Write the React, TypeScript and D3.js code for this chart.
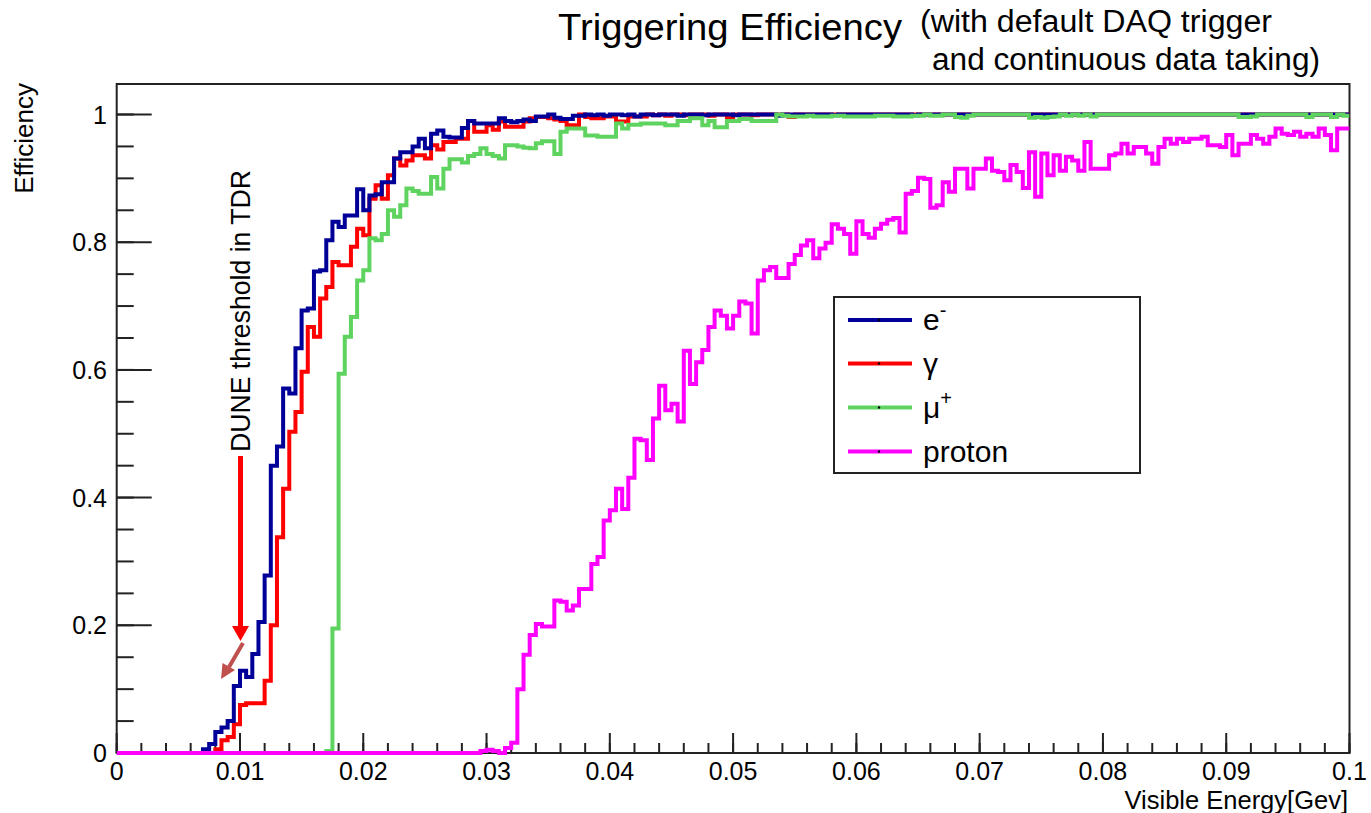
import React from "react";
import * as d3 from "d3";

// ---- data: 200 bins from 0 to 0.1 GeV (bin width 0.0005) ----
const xTickLabels = ["0", "0.01", "0.02", "0.03", "0.04", "0.05", "0.06", "0.07", "0.08", "0.09", "0.1"];
const xTickValues = [0, 0.01, 0.02, 0.03, 0.04, 0.05, 0.06, 0.07, 0.08, 0.09, 0.1];
const yTickLabels = ["0", "0.2", "0.4", "0.6", "0.8", "1"];
const yTickValues = [0, 0.2, 0.4, 0.6, 0.8, 1];

const electron = [
  0, 0, 0, 0, 0, 0, 0, 0, 0, 0,
  0, 0, 0, 0, 0.006, 0.014, 0.033, 0.040, 0.050, 0.105,
  0.129, 0.119, 0.155, 0.205, 0.278, 0.450, 0.480, 0.571, 0.563, 0.634,
  0.693, 0.696, 0.754, 0.756, 0.803, 0.832, 0.824, 0.842, 0.842, 0.883,
  0.850, 0.873, 0.875, 0.894, 0.894, 0.931, 0.941, 0.941, 0.950, 0.962,
  0.947, 0.970, 0.975, 0.965, 0.964, 0.964, 0.979, 0.990, 0.986, 0.986,
  0.986, 0.986, 0.994, 0.990, 0.988, 0.990, 0.992, 0.990, 0.997, 0.997,
  1.000, 0.995, 0.993, 0.993, 0.998, 0.998, 1.000, 0.999, 1.000, 0.998,
  1.000, 1.000, 0.999, 1.000, 0.997, 1.000, 1.000, 0.999, 1.000, 1.000,
  1.000, 0.998, 1.000, 1.000, 1.000, 0.999, 1.000, 1.000, 1.000, 1.000,
  0.999, 1.000, 1.000, 1.000, 1.000, 1.000, 1.000, 0.998, 1.000, 1.000,
  1.000, 1.000, 1.000, 1.000, 1.000, 1.000, 0.999, 1.000, 1.000, 1.000,
  1.000, 1.000, 1.000, 1.000, 1.000, 1.000, 1.000, 1.000, 1.000, 0.999,
  1.000, 1.000, 1.000, 1.000, 1.000, 1.000, 1.000, 1.000, 1.000, 1.000,
  1.000, 1.000, 1.000, 1.000, 1.000, 1.000, 1.000, 1.000, 1.000, 1.000,
  1.000, 1.000, 1.000, 1.000, 1.000, 1.000, 1.000, 1.000, 1.000, 1.000,
  1.000, 1.000, 1.000, 1.000, 1.000, 1.000, 1.000, 1.000, 1.000, 1.000,
  1.000, 1.000, 1.000, 1.000, 1.000, 1.000, 1.000, 1.000, 1.000, 1.000,
  1.000, 1.000, 1.000, 1.000, 1.000, 1.000, 1.000, 1.000, 1.000, 1.000,
  1.000, 1.000, 1.000, 1.000, 1.000, 1.000, 1.000, 1.000, 1.000, 1.000,
];

const gamma = [
  0, 0, 0, 0, 0, 0, 0, 0, 0, 0,
  0, 0, 0, 0, 0, 0, 0.006, 0.020, 0.025, 0.045,
  0.075, 0.078, 0.078, 0.078, 0.113, 0.200, 0.338, 0.414, 0.503, 0.534,
  0.597, 0.667, 0.652, 0.712, 0.730, 0.769, 0.764, 0.764, 0.793, 0.821,
  0.811, 0.868, 0.889, 0.868, 0.905, 0.931, 0.920, 0.928, 0.936, 0.936,
  0.931, 0.952, 0.945, 0.957, 0.957, 0.962, 0.962, 0.990, 0.973, 0.973,
  0.983, 0.976, 0.989, 0.981, 0.981, 0.981, 0.989, 0.994, 0.996, 0.996,
  0.994, 0.992, 0.990, 0.983, 0.983, 1.000, 0.996, 0.994, 0.994, 0.997,
  0.997, 0.989, 0.989, 0.997, 0.997, 0.997, 1.000, 0.999, 1.000, 0.998,
  1.000, 1.000, 0.999, 1.000, 1.000, 1.000, 0.998, 1.000, 1.000, 0.996,
  1.000, 1.000, 1.000, 0.999, 1.000, 1.000, 1.000, 1.000, 1.000, 0.996,
  1.000, 1.000, 1.000, 1.000, 1.000, 1.000, 1.000, 1.000, 1.000, 1.000,
  1.000, 1.000, 1.000, 1.000, 1.000, 1.000, 1.000, 1.000, 1.000, 1.000,
  1.000, 1.000, 1.000, 1.000, 1.000, 1.000, 1.000, 1.000, 1.000, 1.000,
  1.000, 1.000, 1.000, 1.000, 1.000, 1.000, 1.000, 1.000, 1.000, 1.000,
  1.000, 1.000, 1.000, 1.000, 1.000, 1.000, 1.000, 1.000, 1.000, 1.000,
  1.000, 1.000, 1.000, 1.000, 1.000, 1.000, 1.000, 1.000, 1.000, 1.000,
  1.000, 1.000, 1.000, 1.000, 1.000, 1.000, 1.000, 1.000, 1.000, 1.000,
  1.000, 1.000, 1.000, 1.000, 1.000, 1.000, 1.000, 1.000, 1.000, 1.000,
  1.000, 1.000, 1.000, 1.000, 1.000, 1.000, 1.000, 1.000, 1.000, 1.000,
];

const muon = [
  0, 0, 0, 0, 0, 0, 0, 0, 0, 0,
  0, 0, 0, 0, 0, 0, 0, 0, 0, 0,
  0, 0, 0, 0, 0, 0, 0, 0, 0, 0,
  0, 0, 0, 0, 0.003, 0.195, 0.594, 0.652, 0.683, 0.740,
  0.756, 0.806, 0.803, 0.813, 0.850, 0.840, 0.858, 0.884, 0.880, 0.876,
  0.876, 0.902, 0.884, 0.915, 0.930, 0.930, 0.925, 0.935, 0.938, 0.947,
  0.938, 0.935, 0.931, 0.952, 0.952, 0.950, 0.948, 0.947, 0.955, 0.958,
  0.958, 0.938, 0.973, 0.978, 0.978, 0.978, 0.967, 0.967, 0.965, 0.965,
  0.965, 0.986, 0.978, 0.984, 0.984, 0.986, 0.986, 0.986, 0.986, 0.983,
  0.983, 0.990, 0.990, 0.994, 0.994, 0.983, 0.990, 0.980, 0.980, 0.990,
  0.990, 0.993, 0.993, 0.990, 0.990, 0.990, 0.990, 1.000, 0.998, 0.997,
  0.997, 0.997, 0.998, 0.997, 0.997, 0.997, 0.998, 0.998, 0.997, 0.997,
  0.997, 0.997, 0.997, 0.998, 0.998, 0.998, 0.997, 0.997, 0.997, 0.998,
  0.998, 1.000, 0.998, 0.998, 1.000, 1.000, 0.996, 0.995, 0.998, 1.000,
  1.000, 1.000, 1.000, 1.000, 1.000, 1.000, 1.000, 1.000, 0.995, 0.996,
  0.995, 0.996, 0.997, 1.000, 0.998, 1.000, 0.998, 1.000, 0.997, 1.000,
  1.000, 1.000, 1.000, 1.000, 1.000, 1.000, 1.000, 1.000, 1.000, 1.000,
  1.000, 1.000, 1.000, 1.000, 1.000, 1.000, 1.000, 1.000, 1.000, 1.000,
  1.000, 1.000, 0.996, 0.996, 0.997, 1.000, 1.000, 1.000, 1.000, 1.000,
  1.000, 1.000, 1.000, 0.996, 1.000, 1.000, 1.000, 0.996, 1.000, 0.998,
];

const proton = [
  0, 0, 0, 0, 0, 0, 0, 0, 0, 0,
  0, 0, 0, 0, 0, 0, 0, 0, 0, 0,
  0, 0, 0, 0, 0, 0, 0, 0, 0, 0,
  0, 0, 0, 0, 0, 0, 0, 0, 0, 0,
  0, 0, 0, 0, 0, 0, 0, 0, 0, 0,
  0, 0, 0, 0, 0, 0, 0, 0, 0, 0.003,
  0.005, 0.003, 0.000, 0.008, 0.016, 0.100, 0.154, 0.185, 0.202, 0.198,
  0.198, 0.239, 0.237, 0.223, 0.231, 0.257, 0.257, 0.296, 0.307, 0.364,
  0.380, 0.414, 0.382, 0.431, 0.492, 0.490, 0.459, 0.524, 0.575, 0.537,
  0.547, 0.519, 0.630, 0.578, 0.612, 0.631, 0.667, 0.693, 0.685, 0.665,
  0.685, 0.707, 0.704, 0.657, 0.740, 0.756, 0.761, 0.744, 0.744, 0.766,
  0.780, 0.795, 0.803, 0.775, 0.790, 0.799, 0.828, 0.821, 0.813, 0.782,
  0.833, 0.813, 0.807, 0.821, 0.829, 0.835, 0.838, 0.815, 0.876, 0.880,
  0.901, 0.899, 0.854, 0.858, 0.894, 0.879, 0.915, 0.915, 0.884, 0.915,
  0.915, 0.931, 0.912, 0.910, 0.897, 0.921, 0.910, 0.885, 0.941, 0.871,
  0.939, 0.905, 0.936, 0.912, 0.934, 0.928, 0.912, 0.957, 0.915, 0.915,
  0.915, 0.936, 0.939, 0.954, 0.939, 0.949, 0.949, 0.939, 0.923, 0.949,
  0.962, 0.954, 0.962, 0.957, 0.962, 0.962, 0.965, 0.952, 0.952, 0.949,
  0.968, 0.936, 0.954, 0.954, 0.968, 0.962, 0.954, 0.965, 0.978, 0.970,
  0.968, 0.973, 0.965, 0.970, 0.965, 0.978, 0.968, 0.944, 0.978, 0.978,
];

const seriesNames = ["e", "γ", "μ", "proton"];
const seriesSup = ["-", "", "+", ""];
const seriesColors = ["#000099", "#ff0000", "#5fd35f", "#ff00ff"];
const seriesData = [electron, gamma, muon, proton];
const drawOrder = [1, 0, 2, 3];

const FONT = "'Liberation Sans', Arial, Helvetica, sans-serif";

export default function App() {
  const W = 1371;
  const H = 813;
  const fL = 116.7, fR = 1349.5, fT = 84, fB = 753;
  const x = d3.scaleLinear().domain([0, 0.1]).range([fL, fR]);
  const y = d3.scaleLinear().domain([0, 1]).range([fB, 114.5]);

  const stepPath = (vals: number[]) => {
    const bw = 0.1 / vals.length;
    const pts: [number, number][] = vals.map((v, i) => [i * bw, v]);
    pts.push([vals.length * bw, vals[vals.length - 1]]);
    return d3
      .line<[number, number]>()
      .x((d) => x(d[0]))
      .y((d) => y(d[1]))
      .curve(d3.curveStepAfter)(pts) as string;
  };

  const xMinor = d3.range(0, 0.1001, 0.002);
  const yMinor = d3.range(0, 1.001, 0.05);
  const axisColor = "#222";

  const legX = 834, legY = 297, legW = 306, legH = 176;
  const legRows = [320, 363.5, 407.5, 451.5];

  return (
    <svg
      width={W}
      height={H}
      style={{ position: "absolute", left: 0, top: 0, background: "#fff" }}
      fontFamily={FONT}
    >
      <rect x={0} y={0} width={W} height={H} fill="#fff" />
      <defs>
        <clipPath id="plotclip">
          <rect x={fL} y={fT} width={fR - fL} height={fB - fT + 4} />
        </clipPath>
      </defs>

      {/* Title */}
      <text x={558} y={40} fontSize={37} fill="#000" textLength={344} lengthAdjust="spacingAndGlyphs">
        Triggering Efficiency
      </text>
      <text x={920} y={32} fontSize={31} fill="#000" textLength={352} lengthAdjust="spacingAndGlyphs">
        (with default DAQ trigger
      </text>
      <text x={932} y={70} fontSize={31} fill="#000" textLength={388} lengthAdjust="spacingAndGlyphs">
        and continuous data taking)
      </text>

      {/* Frame */}
      <rect x={fL} y={fT} width={fR - fL} height={fB - fT} fill="none" stroke={axisColor} strokeWidth={2} />

      {/* X ticks */}
      {xMinor.map((v, i) => (
        <line key={"xm" + i} x1={x(v)} x2={x(v)} y1={fB} y2={fB - 10} stroke={axisColor} strokeWidth={2} />
      ))}
      {xTickValues.map((v, i) => (
        <g key={"xt" + i}>
          <line x1={x(v)} x2={x(v)} y1={fB} y2={fB - 20} stroke={axisColor} strokeWidth={2} />
          <text x={x(v)} y={780} fontSize={25} textAnchor="middle" fill="#000">
            {xTickLabels[i]}
          </text>
        </g>
      ))}

      {/* Y ticks */}
      {yMinor.map((v, i) => (
        <line key={"ym" + i} x1={fL} x2={fL + 17} y1={y(v)} y2={y(v)} stroke={axisColor} strokeWidth={2} />
      ))}
      {yTickValues.map((v, i) => (
        <g key={"yt" + i}>
          <line x1={fL} x2={fL + 35} y1={y(v)} y2={y(v)} stroke={axisColor} strokeWidth={2} />
          <text x={107} y={y(v) + 9} fontSize={25} textAnchor="end" fill="#000">
            {yTickLabels[i]}
          </text>
        </g>
      ))}

      {/* Axis titles */}
      <text x={1348} y={809} fontSize={25.5} textAnchor="end" fill="#000">
        Visible Energy[Gev]
      </text>
      <text transform="translate(33,83) rotate(-90)" fontSize={26} textAnchor="end" fill="#000">
        Efficiency
      </text>

      {/* Histograms */}
      <g clipPath="url(#plotclip)">
        {drawOrder.map((k) => (
          <path
            key={"s" + k}
            d={stepPath(seriesData[k])}
            fill="none"
            stroke={seriesColors[k]}
            strokeWidth={4}
            strokeLinejoin="miter"
          />
        ))}
      </g>

      {/* Annotation */}
      <text transform="translate(250,452) rotate(-90)" fontSize={27} fill="#000" textLength={282} lengthAdjust="spacingAndGlyphs">
        DUNE threshold in TDR
      </text>
      <line x1={240.5} x2={240.5} y1={456} y2={628} stroke="#ff0000" strokeWidth={5} />
      <polygon points="232,626 249,626 240.5,641" fill="#ff0000" />
      <line x1={243} y1={643} x2={229} y2={667} stroke="#c0504d" strokeWidth={4} />
      <polygon points="221,679 222.5,663 235,670" fill="#c0504d" />

      {/* Legend */}
      <rect x={legX} y={legY} width={legW} height={legH} fill="#fff" stroke={axisColor} strokeWidth={2} />
      {seriesNames.map((name, i) => (
        <g key={"lg" + i}>
          <line x1={848} x2={912} y1={legRows[i]} y2={legRows[i]} stroke={seriesColors[i]} strokeWidth={4} />
          <circle cx={879} cy={legRows[i]} r={1.2} fill="#000" />
          <text x={923} y={legRows[i] + 10} fontSize={30} fill="#000">
            {name}
            {seriesSup[i] ? (
              <tspan dy={-13} fontSize={20}>
                {seriesSup[i]}
              </tspan>
            ) : null}
          </text>
        </g>
      ))}
    </svg>
  );
}
